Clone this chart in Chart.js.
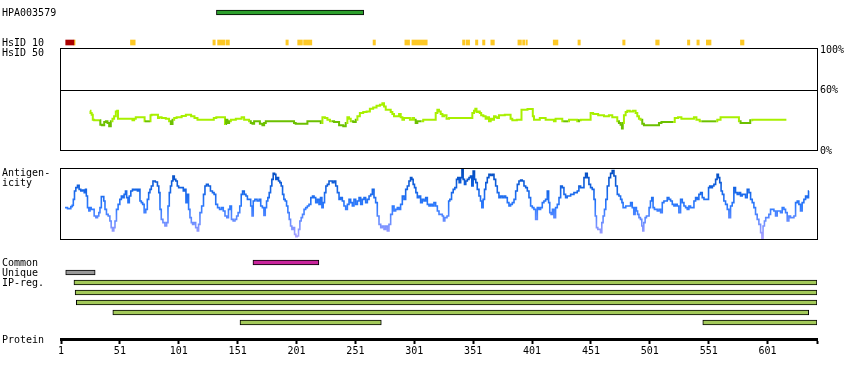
<!DOCTYPE html>
<html>
<head>
<meta charset="utf-8">
<script src="https://cdn.jsdelivr.net/npm/chart.js@4.4.1/dist/chart.umd.min.js"></script>
<style>
  html, body { margin: 0; padding: 0; background: #fff; }
  #wrap { position: relative; width: 850px; height: 380px; overflow: hidden; }
  canvas { position: absolute; left: 0; }
  .lbl { position: absolute; left: 2px; font: 10px/10px "DejaVu Sans Mono", monospace; color: #000; white-space: nowrap; }
</style>
</head>
<body>
<div id="wrap">
  <canvas id="topTracks" width="850" height="48" style="top:0px"></canvas>
  <canvas id="hsidChart" width="850" height="122" style="top:38px"></canvas>
  <canvas id="antChart" width="850" height="90" style="top:160px"></canvas>
  <canvas id="featChart" width="850" height="130" style="top:250px"></canvas>

  <div class="lbl" style="top:8px">HPA003579</div>
  <div class="lbl" style="top:38px">HsID 10</div>
  <div class="lbl" style="top:48px">HsID 50</div>
  <div class="lbl" style="top:168px">Antigen-</div>
  <div class="lbl" style="top:178px">icity</div>
  <div class="lbl" style="top:258px">Common</div>
  <div class="lbl" style="top:268px">Unique</div>
  <div class="lbl" style="top:278px">IP-reg.</div>
  <div class="lbl" style="top:335px">Protein</div>
</div>

<script>
// residue range of the protein axis
const xMin = 1;
const xMax = 643;
const proteinTicks = [1, 51, 101, 151, 201, 251, 301, 351, 401, 451, 501, 551, 601];
const hsidTicks = [0, 60, 100];

// feature intervals [start, end] in residues
const antibodyRegion = [[133, 258]];
const hsid10Red = [[5, 12]];
const hsid10Yellow = [
  [12, 13], [60, 64], [130, 132], [134, 140], [141, 144], [192, 194], [202, 206], [207, 214],
  [266, 268], [293, 297], [299, 312], [342, 344], [345, 348], [353, 355], [359, 361], [366, 369],
  [389, 392], [393, 395], [396, 397], [419, 423], [440, 442], [478, 480], [506, 509], [533, 535],
  [541, 543], [549, 553], [578, 581]
];
const commonRegion = [[164, 220]];
const uniqueRegion = [[5, 30]];
const ipRegions = [[12, 643], [13, 643], [14, 643], [45, 636], [153, 273], [546, 643]];
const ipRegLane = [0, 1, 2, 3, 4, 4];

// HsID 50 identity (%)
const hsidPos = [
  25.6, 26.5, 27.6, 28.4, 29.9, 34.1, 34.7, 37.0, 38.4, 39.8,
  41.2, 42.6, 44.0, 45.4, 46.8, 48.3, 49.1, 49.7, 61.0, 62.4,
  63.8, 65.2, 71.7, 72.3, 76.6, 77.4, 78.5, 83.1, 83.6, 85.0,
  87.9, 92.1, 93.5, 95.0, 96.4, 97.8, 100.6, 106.3, 107.7, 110.5,
  112.5, 116.2, 117.6, 130.3, 131.2, 134.6, 139.7, 140.8, 141.6, 143.0,
  144.5, 145.9, 153.0, 155.8, 157.2, 160.0, 161.4, 162.9, 164.3, 165.7,
  168.5, 171.3, 172.8, 174.2, 175.6, 198.2, 199.6, 201.0, 209.5, 211.0,
  220.9, 222.3, 223.7, 226.5, 228.0, 230.8, 235.0, 239.3, 242.1, 243.5,
  244.9, 246.3, 247.8, 250.6, 252.0, 253.4, 256.2, 259.1, 261.9, 264.7,
  267.5, 270.4, 273.2, 274.6, 276.0, 277.5, 280.3, 281.7, 283.1, 284.5,
  287.4, 288.8, 290.2, 291.6, 293.0, 295.9, 298.7, 300.1, 301.5, 302.9,
  304.3, 307.2, 310.0, 318.5, 319.9, 321.3, 322.7, 324.2, 325.6, 327.0,
  329.8, 331.2, 349.6, 351.0, 352.4, 353.3, 354.4, 356.1, 357.2, 358.4,
  360.9, 362.3, 363.7, 365.2, 366.6, 368.0, 369.4, 370.8, 372.2, 373.6,
  382.1, 383.5, 385.0, 391.2, 392.9, 401.4, 401.9, 403.4, 411.8, 413.3,
  418.9, 420.3, 421.7, 426.0, 427.4, 431.7, 433.1, 438.7, 440.1, 441.6,
  443.0, 450.0, 451.5, 454.3, 460.0, 464.2, 468.4, 469.9, 472.7, 474.1,
  475.5, 476.9, 477.8, 478.3, 479.8, 481.2, 482.6, 485.4, 488.2, 489.7,
  491.1, 492.5, 493.9, 495.3, 496.7, 508.1, 509.5, 512.3, 520.8, 523.6,
  526.4, 529.3, 537.8, 539.2, 542.0, 544.8, 557.6, 559.0, 563.2, 576.0,
  577.4, 578.8, 585.3, 587.3, 588.7, 617.0
];
const hsidVal = [
  39.9, 37.6, 35.9, 31.0, 30.4, 30.4, 26.1, 25.5, 28.8, 29.4,
  27.8, 24.5, 29.4, 32.0, 34.3, 39.2, 39.9, 32.0, 32.0, 30.4,
  32.0, 33.3, 33.3, 29.4, 29.4, 35.3, 35.9, 35.9, 32.7, 33.3,
  32.7, 32.0, 29.4, 26.8, 31.0, 32.7, 33.3, 34.6, 35.9, 35.9,
  34.3, 32.7, 31.0, 31.0, 32.7, 33.3, 33.3, 26.8, 31.0, 27.8,
  29.4, 31.0, 32.0, 33.3, 31.0, 31.0, 29.4, 27.8, 27.1, 29.4,
  29.4, 27.1, 25.5, 27.8, 29.4, 29.4, 27.8, 27.1, 27.1, 29.4,
  29.4, 27.8, 33.3, 32.7, 31.0, 29.4, 28.8, 25.5, 24.5, 27.8,
  33.3, 32.0, 29.4, 28.8, 31.0, 34.3, 37.6, 38.6, 39.2, 41.8,
  43.1, 44.8, 45.8, 47.4, 44.1, 40.8, 40.8, 38.6, 36.6, 34.3,
  34.3, 36.6, 33.3, 31.0, 32.7, 32.7, 31.0, 32.7, 31.0, 27.8,
  29.4, 29.4, 31.0, 31.0, 37.6, 40.8, 39.2, 36.6, 34.3, 35.3,
  32.0, 32.7, 32.7, 37.6, 39.9, 41.8, 38.6, 39.2, 37.6, 35.3,
  34.3, 32.0, 33.3, 29.4, 32.0, 31.0, 34.3, 33.3, 32.7, 35.3,
  35.9, 32.0, 30.4, 31.0, 40.8, 41.5, 34.3, 31.0, 32.7, 31.0,
  31.0, 29.4, 32.0, 32.0, 29.4, 29.4, 31.0, 31.0, 29.4, 30.4,
  31.0, 31.0, 37.6, 36.6, 35.3, 34.3, 35.3, 33.3, 33.3, 29.4,
  27.8, 26.1, 22.2, 27.8, 35.3, 38.6, 39.9, 39.2, 39.9, 37.6,
  34.3, 32.0, 31.0, 27.1, 25.5, 25.5, 27.8, 28.8, 28.8, 32.7,
  33.3, 32.0, 32.0, 33.3, 31.0, 29.4, 29.4, 31.0, 33.3, 33.3,
  29.4, 27.8, 27.8, 30.4, 31.0, 31.0
];

// antigenicity score (arbitrary units, 0..216)
const antPos = [
  4.4, 8.6, 10.1, 10.9, 12.0, 12.9, 14.3, 15.7, 17.1, 18.5,
  20.0, 21.4, 22.2, 22.8, 24.2, 25.1, 26.2, 27.0, 28.4, 29.9,
  31.3, 32.7, 33.5, 34.7, 35.8, 36.9, 37.8, 38.9, 40.3, 41.8,
  43.2, 44.0, 45.4, 46.3, 47.4, 48.8, 50.2, 51.7, 52.8, 53.9,
  55.3, 56.2, 57.3, 58.4, 59.6, 61.0, 62.4, 63.8, 65.2, 66.6,
  67.5, 68.6, 69.8, 70.9, 72.3, 73.7, 74.9, 76.0, 77.1, 78.3,
  79.9, 82.2, 83.6, 84.5, 85.6, 86.7, 88.4, 90.1, 91.3, 92.4,
  93.5, 94.4, 95.5, 96.6, 97.8, 99.2, 100.3, 101.5, 102.6, 104.3,
  105.4, 106.5, 107.7, 108.8, 109.9, 111.1, 112.2, 113.3, 114.5, 116.2,
  117.3, 118.4, 119.6, 121.3, 122.7, 123.8, 125.2, 126.9, 128.9, 130.3,
  131.7, 133.1, 134.8, 136.5, 138.2, 139.4, 141.1, 142.5, 143.9, 145.0,
  146.5, 147.9, 149.6, 150.7, 152.1, 153.5, 154.6, 155.8, 157.5, 158.6,
  160.0, 161.4,
  162.8, 163.7, 164.8, 166.5, 168.5, 169.9, 171.3, 172.7, 173.9, 175.0,
  176.1, 177.2, 178.4, 179.5, 180.6, 181.8, 182.9, 184.0, 185.2, 186.3,
  187.4, 188.6, 189.7, 190.8, 192.0, 193.1, 194.2, 195.4, 196.5, 197.6,
  198.8, 199.9, 201.0, 202.1, 203.3, 204.4, 205.5, 206.7, 208.1, 209.5,
  210.9, 212.3, 214.0, 215.2, 216.6, 218.0, 219.4, 220.8, 222.0, 223.1,
  224.2, 225.4, 226.5, 227.9, 229.3, 230.7, 232.1, 233.6, 235.0, 236.4,
  237.8, 239.2, 240.6, 242.0, 243.5, 244.9, 246.3, 247.7, 249.1, 250.5,
  252.0, 253.4, 254.8, 256.2, 257.6, 259.0, 260.4, 261.9, 263.3, 264.7,
  266.1, 267.5, 268.9, 270.3, 271.8, 273.2, 274.6, 276.0, 277.4, 278.8,
  280.2, 281.7, 283.1, 284.5, 285.9, 287.3, 288.7, 290.1, 291.6, 293.0,
  294.4, 295.8, 297.2, 298.4, 299.5, 300.6, 301.8, 302.9, 304.3, 305.7,
  307.1, 308.5, 310.0, 311.4, 312.8, 314.2, 315.6, 317.0, 318.4, 319.9,
  321.3, 322.7,
  324.1, 325.5, 326.1, 327.8, 329.8, 330.6, 331.8, 333.5, 334.6, 336.3,
  337.4, 338.5, 339.7, 341.1, 341.9, 343.1, 344.2, 345.3, 346.8, 348.2,
  349.3, 350.4, 351.6, 352.7, 353.8, 355.2, 356.7, 357.8, 358.9, 360.1,
  361.2, 362.3, 363.7, 365.1, 366.6, 368.0, 369.4, 370.8, 372.2, 373.6,
  375.0, 376.5, 377.9, 379.3, 380.7, 382.1, 383.5, 385.0, 386.4, 387.8,
  389.2, 390.6, 392.0, 393.4, 394.9, 396.3, 397.7, 399.1, 400.5, 401.9,
  403.3, 404.8, 406.2, 407.6, 409.0, 410.4, 411.8, 413.2, 414.7, 415.5,
  416.6, 417.8, 418.9, 420.3, 421.7, 423.2, 424.6, 426.0, 427.4, 428.8,
  430.2, 431.6, 433.1, 434.5, 435.9, 437.3, 438.7, 440.1, 441.5, 443.0,
  444.4, 445.8, 447.2, 448.6, 450.0, 451.4, 452.9, 454.3, 455.1, 456.3,
  457.4, 458.5, 459.7, 460.8, 461.9, 463.1, 464.2, 465.6, 467.0, 468.4,
  469.8, 471.3, 472.7, 474.1, 475.5, 476.9, 477.8, 478.9, 480.0, 481.2,
  482.6, 484.0,
  485.4, 486.8, 488.0, 489.1, 490.2, 491.1, 492.5, 493.6, 494.8, 495.3,
  496.5, 497.6, 498.7, 499.8, 501.0, 502.1, 503.2, 504.4, 505.5, 506.6,
  508.1, 509.5, 510.9, 512.3, 513.7, 515.1, 516.5, 518.0, 519.4, 520.8,
  522.2, 523.6, 525.0, 526.4, 527.9, 529.3, 530.7, 532.1, 533.5, 534.9,
  536.3, 537.8, 539.2, 540.6, 542.0, 543.4, 544.8, 546.3, 547.7, 549.1,
  550.5, 551.3, 552.5, 553.6, 554.7, 556.2, 557.6, 558.7, 559.8, 561.0,
  562.1, 563.2, 564.6, 566.1, 567.5, 568.9, 570.3, 571.7, 573.1, 574.5,
  576.0, 577.4, 578.8, 580.2, 581.6, 583.0, 584.5, 585.9, 587.3, 588.7,
  590.1, 591.5, 592.9, 594.4, 595.8, 596.6, 597.8, 598.9, 600.0, 601.4,
  602.8, 604.3, 605.7, 607.1, 608.5, 609.9, 611.3, 612.7, 614.2, 615.6,
  617.0, 618.4, 619.8, 621.2, 622.7, 624.1, 625.5, 626.9, 628.3, 629.7,
  631.1, 632.6, 634.0, 635.4, 636.2
];
const antVal = [
  97, 94, 100, 104, 122, 147, 157, 164, 152, 147,
  150, 142, 152, 132, 97, 87, 97, 92, 92, 72,
  67, 72, 82, 97, 130, 130, 117, 92, 77, 72,
  57, 37, 27, 37, 57, 92, 107, 122, 132, 127,
  137, 147, 127, 112, 132, 147, 152, 150, 152, 147,
  152, 117, 112, 107, 82, 92, 122, 142, 152, 162,
  177, 174, 162, 142, 92, 62, 52, 42, 52, 102,
  142, 162, 177, 192, 182, 177, 162, 157, 157, 157,
  147, 152, 112, 137, 92, 67, 52, 47, 52, 37,
  27, 47, 82, 102, 137, 162, 167, 162, 147, 142,
  137, 107, 97, 92, 97, 87, 72, 67, 92, 102,
  62, 57, 62, 72, 82, 102, 137, 147, 137, 132,
  122, 122,
  102, 72, 117, 122, 117, 122, 102, 97, 74, 97,
  117, 127, 142, 162, 182, 200, 197, 182, 187, 177,
  172, 162, 137, 122, 117, 102, 82, 62, 42, 32,
  37, 17, 10, 12, 32, 57, 67, 77, 92, 97,
  102, 107, 127, 132, 127, 112, 122, 107, 127, 97,
  112, 142, 162, 167, 177, 177, 172, 177, 162, 142,
  122, 127, 117, 102, 92, 107, 122, 112, 102, 122,
  107, 117, 127, 107, 122, 127, 112, 122, 132, 137,
  152, 127, 112, 72, 47, 37, 42, 32, 42, 27,
  47, 77, 102, 87, 92, 97, 92, 107, 132, 122,
  152, 162, 177, 187, 182, 167, 157, 142, 127, 132,
  112, 122, 117, 127, 107, 102, 107, 102, 112, 102,
  87, 77,
  77, 72, 57, 67, 72, 117, 122, 142, 152, 157,
  182, 187, 172, 187, 214, 182, 167, 177, 182, 187,
  192, 162, 207, 182, 172, 152, 132, 117, 97, 122,
  152, 172, 187, 197, 194, 197, 182, 162, 142, 127,
  132, 127, 132, 127, 112, 102, 107, 112, 122, 147,
  167, 177, 180, 177, 162, 157, 147, 127, 102, 97,
  92, 62, 97, 92, 97, 112, 117, 122, 147, 112,
  82, 77, 92, 67, 97, 107, 127, 162, 157, 137,
  127, 132, 132, 137, 137, 142, 142, 147, 162, 157,
  157, 187, 200, 187, 167, 157, 152, 122, 72, 37,
  32, 32, 22, 52, 72, 92, 122, 162, 187, 200,
  208, 192, 162, 137, 132, 122, 112, 97, 97, 102,
  102, 102,
  112, 97, 77, 97, 87, 77, 67, 62, 42, 27,
  52, 67, 72, 72, 97, 117, 127, 97, 92, 92,
  87, 92, 82, 112, 117, 117, 127, 122, 117, 107,
  102, 107, 102, 82, 122, 112, 102, 97, 92, 102,
  97, 97, 117, 127, 122, 137, 142, 127, 122, 122,
  122, 157, 162, 157, 162, 167, 182, 197, 187, 172,
  147, 137, 117, 107, 92, 67, 102, 112, 157, 142,
  137, 142, 132, 137, 137, 127, 152, 142, 122, 112,
  97, 77, 62, 47, 22, 4, 42, 57, 67, 67,
  77, 92, 92, 87, 72, 87, 87, 82, 97, 92,
  82, 57, 72, 67, 67, 72, 112, 117, 107, 87,
  112, 122, 132, 127, 147
];

Chart.defaults.font.family = '"DejaVu Sans Mono", monospace';
Chart.defaults.font.size = 10;
Chart.defaults.color = '#000';
Chart.defaults.animation = false;
Chart.defaults.responsive = false;
Chart.defaults.plugins.legend.display = false;
Chart.defaults.plugins.tooltip.enabled = false;

const pad = { left: 61, right: 33 };

// black box round the plot area
const frame = {
  id: 'frame',
  afterDraw(chart) {
    const { ctx, chartArea: a } = chart;
    ctx.save();
    ctx.strokeStyle = '#000';
    ctx.lineWidth = 1;
    ctx.strokeRect(a.left - 0.5, a.top + 0.5, a.right - a.left + 1, a.bottom - a.top - 1);
    ctx.restore();
  }
};

const lane = (list, row) => list.map(r => ({ x: r, y: row }));
const barStyle = { barThickness: 5, grouped: false, borderSkipped: false };

// antibody + HsID 10
new Chart(document.getElementById('topTracks'), {
  type: 'bar',
  data: {
    datasets: [
      { ...barStyle, data: lane(antibodyRegion, 0), backgroundColor: '#2ca02c', borderColor: '#000', borderWidth: 1 },
      { ...barStyle, data: lane(hsid10Red, 1), backgroundColor: '#aa0000', borderWidth: 0 },
      { ...barStyle, data: lane(hsid10Yellow, 1), backgroundColor: '#fdc825', borderWidth: 0 }
    ]
  },
  options: {
    indexAxis: 'y',
    layout: { padding: { left: pad.left, right: pad.right, top: 0, bottom: 0 } },
    scales: {
      x: { type: 'linear', min: xMin, max: xMax, display: false, offset: false },
      y: { type: 'linear', min: -0.4167, max: 1.1833, reverse: true, display: false, offset: false }
    }
  }
});

// HsID 50
const lightGreen = '#a8f000';
const darkGreen = '#6cc000';
new Chart(document.getElementById('hsidChart'), {
  type: 'line',
  data: {
    datasets: [{
      data: hsidPos.map((p, i) => ({ x: p, y: hsidVal[i] })),
      borderColor: lightGreen,
      borderWidth: 2,
      pointRadius: 0,
      stepped: 'middle',
      segment: {
        borderColor: c => (c.p0.parsed.y + c.p1.parsed.y) / 2 < 30 ? darkGreen : lightGreen
      }
    }]
  },
  options: {
    layout: { padding: { left: pad.left, right: 0, top: 10, bottom: 9 } },
    scales: {
      x: { type: 'linear', min: xMin, max: xMax, display: false },
      y: {
        position: 'right',
        min: 0,
        max: 102,
        afterFit: s => { s.width = pad.right; },
        afterBuildTicks: s => { s.ticks = hsidTicks.map(v => ({ value: v })); },
        ticks: { padding: 3, callback: v => v + '%' },
        grid: {
          drawTicks: false,
          color: c => (c.tick && c.tick.value === 60) ? '#000' : 'rgba(0,0,0,0)'
        },
        border: { display: false }
      }
    }
  },
  plugins: [frame]
});

// Antigenicity
new Chart(document.getElementById('antChart'), {
  type: 'line',
  data: {
    datasets: [{
      data: antPos.map((p, i) => ({ x: p, y: antVal[i] })),
      borderWidth: 1.6,
      pointRadius: 0,
      stepped: 'middle',
      borderColor: c => {
        const a = c.chart.chartArea;
        if (!a) return '#2070f0';
        const g = c.chart.ctx.createLinearGradient(0, a.top, 0, a.bottom);
        g.addColorStop(0, '#0048b8');
        g.addColorStop(0.3, '#1565e6');
        g.addColorStop(0.55, '#2f7bff');
        g.addColorStop(0.75, '#6a8dff');
        g.addColorStop(1, '#b4a4ff');
        return g;
      }
    }]
  },
  options: {
    layout: { padding: { left: pad.left, right: pad.right, top: 8, bottom: 10 } },
    scales: {
      x: { type: 'linear', min: xMin, max: xMax, display: false },
      y: { min: 0, max: 216, display: false }
    }
  },
  plugins: [frame]
});

// Common / Unique / IP-reg. + protein axis
new Chart(document.getElementById('featChart'), {
  type: 'bar',
  data: {
    datasets: [
      { ...barStyle, data: lane(commonRegion, 0), backgroundColor: '#c9249c', borderColor: '#000', borderWidth: 1 },
      { ...barStyle, data: lane(uniqueRegion, 1), backgroundColor: '#999999', borderColor: '#000', borderWidth: 1 },
      { ...barStyle, data: ipRegions.map((r, i) => ({ x: r, y: 2 + ipRegLane[i] })), backgroundColor: '#a3c95a', borderColor: '#000', borderWidth: 1 }
    ]
  },
  options: {
    indexAxis: 'y',
    layout: { padding: { left: pad.left, right: pad.right, top: 0, bottom: 0 } },
    scales: {
      x: {
        type: 'linear',
        min: xMin,
        max: xMax,
        offset: false,
        afterFit: s => { s.height = 41; },
        afterBuildTicks: s => { s.ticks = proteinTicks.concat([xMax]).map(v => ({ value: v })); },
        ticks: {
          autoSkip: false,
          maxRotation: 0,
          padding: 1,
          callback: v => v === xMax ? '' : String(v)
        },
        grid: { drawOnChartArea: false, drawTicks: true, tickLength: 5, tickWidth: 2, tickColor: '#000' },
        border: { display: true, color: '#000', width: 3 }
      },
      y: { type: 'linear', min: -1.25, max: 7.65, reverse: true, display: false, offset: false }
    }
  }
});
</script>
</body>
</html>
